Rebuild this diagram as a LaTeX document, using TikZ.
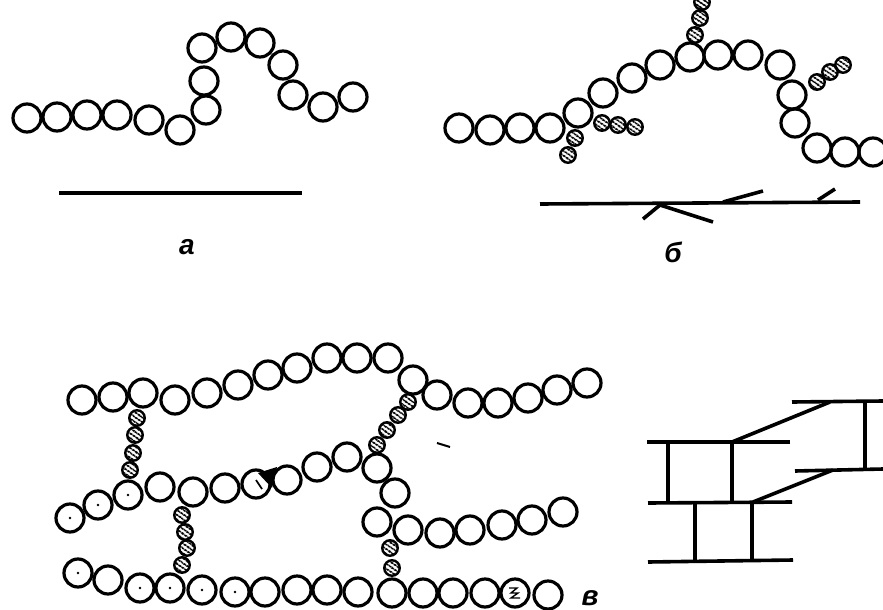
\documentclass[tikz,border=0pt]{standalone}
\usepackage{fontspec}
\setmainfont{Liberation Sans}
\usetikzlibrary{patterns.meta}

\begin{document}
\begin{tikzpicture}[x=1pt,y=-1pt,
  bead/.style={circle,draw,line width=3.2pt,minimum size=28pt,inner sep=0pt},
  link/.style={circle,draw,line width=2.4pt,minimum size=15.5pt,inner sep=0pt,
    pattern={Lines[angle=-35,distance=4pt,line width=2.2pt]}},
  rod/.style={line width=3.6pt},
  lab/.style={font=\fontsize{28}{30}\selectfont\bfseries\itshape}]
\useasboundingbox (0,0) rectangle (883,610);

% linear chain
\foreach \p [count=\i] in {(27,118),(57,117),(87,115),(117,115),(149,120),(180,130),
  (206,110),(204,81),(202,48),(231,37),(260,43),(283,65),(293,95),(323,107),(353,97)}
  \node[bead] (a\i) at \p {};
\draw[rod] (59,193) -- (302,193);
\node[lab] (la) at (187,247) {a};

% branched chain
\foreach \p [count=\i] in {(575,138),(568,155),(602,123),(618,125),(635,127),
  (695,35),(700,18),(702,2),(817,82),(830,72),(843,65)}
  \node[link] (bb\i) at \p {};
\foreach \p [count=\i] in {(459,128),(490,130),(520,128),(550,128),(578,113),(603,93),
  (632,78),(660,65),(690,57),(718,55),(748,55),(780,65),(792,95),(795,123),
  (817,148),(845,152),(873,152)}
  \node[bead] (b\i) at \p {};
\draw[rod] (540,204) -- (860,202);
\draw[rod] (643,219) -- (660,205) -- (713,222);
\draw[rod] (723,202) -- (763,191);
\draw[rod] (818,200) -- (835,189);
\node[lab] (lb) at (673,252) {б};

% cross-linked chains
\foreach \p [count=\i] in {(137,418),(135,435),(133,453),(130,470),
  (182,515),(185,532),(187,548),(182,565),
  (408,402),(398,415),(387,430),(377,445),
  (390,548),(392,568)}
  \node[link] (vv\i) at \p {};
\foreach \p [count=\i] in {(82,400),(113,397),(143,393),(175,400),(207,393),(238,385),
  (268,375),(297,368),(327,358),(357,358),(388,358),(413,380),(437,395),(468,403),
  (498,403),(528,398),(557,390),(587,383)}
  \node[bead] (p\i) at \p {};
\foreach \p [count=\i] in {(70,518),(98,505),(128,495),(160,487),(193,492),(225,488),
  (256,484),(287,480),(317,467),(347,457),(377,468),(395,493),(377,522),(408,530),
  (440,533),(470,530),(502,525),(532,520),(563,512)}
  \node[bead] (q\i) at \p {};
\foreach \p [count=\i] in {(78,573),(108,580),(140,588),(170,588),(202,590),(235,592),
  (265,592),(297,590),(327,590),(358,592),(392,593),(423,593),(453,593),(485,593),
  (515,593),(548,595)}
  \node[bead] (r\i) at \p {};
\foreach \n in {q1,q2,q3,r1,r3,r4,r5,r6}
  \fill (\n) circle (1.3);
\fill (258,473) -- (277,467) -- (272,488) -- cycle;
\draw[line width=1.8pt] (256,480) -- (262,489);
\draw[line width=1.4pt] (r15.center) ++(-6,-5) -- ++(8,0) -- ++(-6,5) -- ++(7,0) -- ++(-7,5) -- ++(9,0);
\draw[line width=2pt] (437,443) -- (450,447);
\node[lab] (lv) at (590,598) {в};

% ladder scheme
\draw[rod] (647,442) -- (790,442);
\draw[rod] (648,503) -- (792,502);
\draw[rod] (648,562) -- (793,560);
\draw[rod] (792,402) -- (883,401);
\draw[rod] (795,471) -- (883,469);
\draw[rod] (668,443) -- (668,502) (732,442) -- (732,502);
\draw[rod] (695,503) -- (695,561) (752,503) -- (752,561);
\draw[rod] (865,402) -- (865,470);
\draw[rod] (732,442) -- (830,402);
\draw[rod] (753,502) -- (833,470);
\end{tikzpicture}
\end{document}
